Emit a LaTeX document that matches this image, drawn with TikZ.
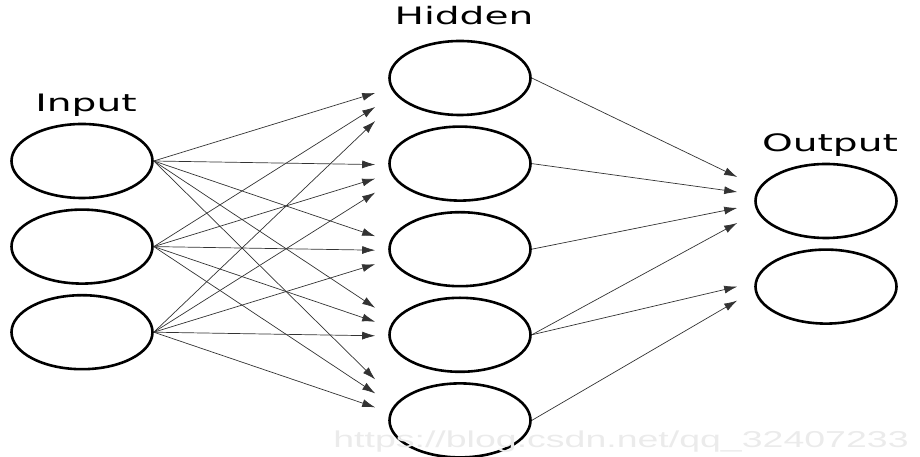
\documentclass[tikz,border=0pt]{standalone}
\usepackage{fontspec}
\usepackage{graphicx}
\setmainfont{DejaVu Sans}
\newfontfamily\wmfont{Liberation Sans}
\usepackage{tikz}
\usetikzlibrary{shapes.geometric, arrows.meta, positioning, calc}

\newcommand{\stretched}[1]{\scalebox{1.63}[1]{#1}}

\begin{document}
\begin{tikzpicture}[
    x=1pt, y=1pt,
    node distance=9pt,
    neuron/.style={ellipse, draw, line width=2.6pt, minimum width=141pt, minimum height=74pt, inner sep=0pt},
    layer/.style={font=\fontsize{24}{28}\selectfont, inner sep=0pt, xshift=4pt},
    link/.style={-{Latex[length=13pt,width=8pt]}, line width=0.7pt, draw=black!80},
    watermark/.style={font=\wmfont\fontsize{23}{27}\selectfont, text=black!8, inner sep=0pt}
]
\useasboundingbox (0,0) rectangle (920,457);

% Input layer
\node[neuron] (in1) at (82,296) {};
\node[neuron, below=of in1] (in2) {};
\node[neuron, below=of in2] (in3) {};

% Hidden layer
\node[neuron] (hid1) at (460,379) {};
\node[neuron, below=of hid1] (hid2) {};
\node[neuron, below=of hid2] (hid3) {};
\node[neuron, below=of hid3] (hid4) {};
\node[neuron, below=of hid4] (hid5) {};

% Output layer
\node[neuron] (out1) at (826,256) {};
\node[neuron, below=of out1] (out2) {};

% Layer names
\node[layer, above=6pt of in1] (inname) {\stretched{Input}};
\node[layer, above=15pt of hid1] (hidname) {\stretched{Hidden}};
\node[layer, above=6pt of out1] (outname) {\stretched{Output}};

% Input -> hidden
\foreach \s in {1,2,3}
  \foreach \t in {1,...,5}
    \draw[link] (in\s.east) -- ($(hid\t.west)+(-13,{-15-14*(\s-\t)})$);

% Hidden -> output
\draw[link] (hid1.east) -- ($(out1.west)+(-17,24)$);
\draw[link] (hid2.east) -- ($(out1.west)+(-17,9)$);
\draw[link] (hid3.east) -- ($(out1.west)+(-17,-7)$);
\draw[link] (hid4.east) -- ($(out1.west)+(-17,-22)$);
\draw[link] (hid4.east) -- ($(out2.west)+(-17,0)$);
\draw[link] (hid5.east) -- ($(out2.west)+(-17,-14)$);

% Watermark
\node[watermark, anchor=base] (wm) at (621,9) {\stretched{https://blog.csdn.net/qq\_32407233}};

\end{tikzpicture}
\end{document}
